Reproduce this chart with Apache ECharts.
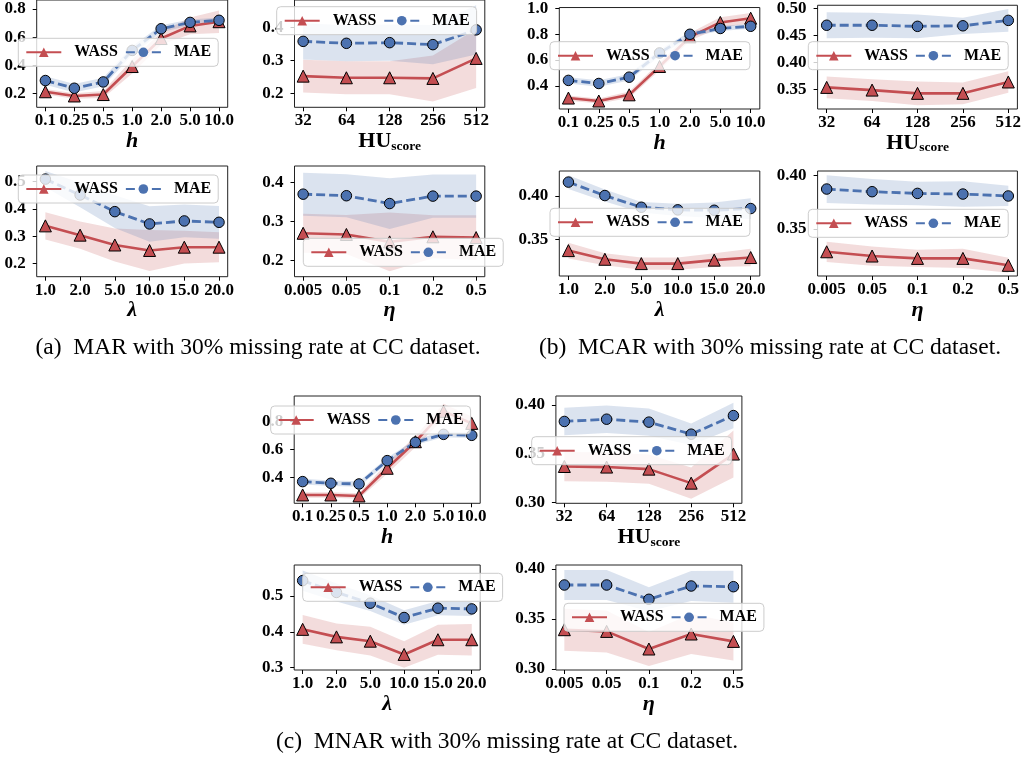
<!DOCTYPE html>
<html>
<head>
<meta charset="utf-8">
<script src="https://cdn.jsdelivr.net/npm/echarts@6/dist/echarts.min.js"></script>
<style>
html, body { margin: 0; padding: 0; background: #fff; }
#chart { width: 1025px; height: 761px; }
</style>
</head>
<body>
<div id="chart"></div>
<script>
// tick labels of the four hyper-parameters
var hCats = ['0.1', '0.25', '0.5', '1.0', '2.0', '5.0', '10.0'];
var huCats = ['32', '64', '128', '256', '512'];
var lamCats = ['1.0', '2.0', '5.0', '10.0', '15.0', '20.0'];
var etaCats = ['0.005', '0.05', '0.1', '0.2', '0.5'];

// (a) MAR
var marH_wass = [0.21, 0.18, 0.19, 0.39, 0.59, 0.68, 0.71];
var marH_mae = [0.29, 0.235, 0.28, 0.505, 0.66, 0.705, 0.72];
var marH_wassSd = [0.02, 0.02, 0.025, 0.05, 0.045, 0.06, 0.08];
var marH_maeSd = [0.03, 0.03, 0.03, 0.03, 0.025, 0.02, 0.02];

var marHu_wass = [0.252, 0.247, 0.247, 0.245, 0.306];
var marHu_mae = [0.358, 0.352, 0.354, 0.348, 0.393];
var marHu_wassSd = [0.05, 0.05, 0.05, 0.07, 0.09];
var marHu_maeSd = [0.055, 0.055, 0.055, 0.06, 0.075];

var marLam_wass = [0.338, 0.304, 0.268, 0.248, 0.26, 0.26];
var marLam_mae = [0.509, 0.451, 0.39, 0.345, 0.356, 0.351];
var marLam_wassSd = [0.05, 0.05, 0.06, 0.075, 0.06, 0.055];
var marLam_maeSd = [0.03, 0.045, 0.06, 0.065, 0.06, 0.06];

var marEta_wass = [0.27, 0.267, 0.248, 0.261, 0.259];
var marEta_mae = [0.37, 0.366, 0.346, 0.365, 0.365];
var marEta_wassSd = [0.05, 0.05, 0.075, 0.055, 0.057];
var marEta_maeSd = [0.055, 0.055, 0.065, 0.055, 0.055];

// (b) MCAR
var mcarH_wass = [0.305, 0.282, 0.33, 0.55, 0.78, 0.892, 0.925];
var mcarH_mae = [0.442, 0.418, 0.467, 0.655, 0.8, 0.845, 0.862];
var mcarH_wassSd = [0.02, 0.02, 0.025, 0.03, 0.03, 0.04, 0.04];
var mcarH_maeSd = [0.025, 0.025, 0.025, 0.025, 0.02, 0.02, 0.02];

var mcarHu_wass = [0.354, 0.349, 0.343, 0.343, 0.364];
var mcarHu_mae = [0.469, 0.469, 0.467, 0.468, 0.478];
var mcarHu_wassSd = [0.02, 0.02, 0.022, 0.02, 0.02];
var mcarHu_maeSd = [0.024, 0.023, 0.022, 0.015, 0.021];

var mcarLam_wass = [0.337, 0.327, 0.322, 0.322, 0.326, 0.329];
var mcarLam_mae = [0.416, 0.4005, 0.387, 0.384, 0.3835, 0.3855];
var mcarLam_wassSd = [0.009, 0.007, 0.007, 0.007, 0.008, 0.01];
var mcarLam_maeSd = [0.008, 0.007, 0.006, 0.007, 0.009, 0.012];

var mcarEta_wass = [0.3287, 0.3247, 0.3225, 0.3225, 0.316];
var mcarEta_mae = [0.3875, 0.385, 0.3834, 0.3828, 0.381];
var mcarEta_wassSd = [0.0095, 0.009, 0.008, 0.009, 0.007];
var mcarEta_maeSd = [0.013, 0.012, 0.011, 0.012, 0.0095];

// (c) MNAR
var mnarH_wass = [0.273, 0.273, 0.266, 0.465, 0.656, 0.875, 0.788];
var mnarH_mae = [0.369, 0.357, 0.352, 0.52, 0.652, 0.709, 0.702];
var mnarH_wassSd = [0.02, 0.02, 0.02, 0.04, 0.04, 0.055, 0.05];
var mnarH_maeSd = [0.02, 0.02, 0.02, 0.02, 0.02, 0.02, 0.02];

var mnarHu_wass = [0.337, 0.3364, 0.3343, 0.32, 0.3497];
var mnarHu_mae = [0.383, 0.3853, 0.3823, 0.37, 0.389];
var mnarHu_wassSd = [0.015, 0.015, 0.015, 0.016, 0.024];
var mnarHu_maeSd = [0.014, 0.014, 0.014, 0.011, 0.013];

var mnarLam_wass = [0.407, 0.386, 0.374, 0.337, 0.378, 0.378];
var mnarLam_mae = [0.543, 0.51, 0.48, 0.44, 0.466, 0.464];
var mnarLam_wassSd = [0.04, 0.037, 0.04, 0.037, 0.042, 0.044];
var mnarLam_maeSd = [0.028, 0.025, 0.022, 0.02, 0.02, 0.02];

var mnarEta_wass = [0.3393, 0.3376, 0.32, 0.335, 0.3276];
var mnarEta_mae = [0.384, 0.384, 0.3697, 0.383, 0.3823];
var mnarEta_wassSd = [0.021, 0.021, 0.017, 0.02, 0.019];
var mnarEta_maeSd = [0.015, 0.015, 0.012, 0.015, 0.016];

// y tick labels per panel
var ticksMarH = [0.2, 0.4, 0.6, 0.8];
var ticksMarHu = [0.2, 0.3, 0.4];
var ticksMarLam = [0.2, 0.3, 0.4, 0.5];
var ticksMarEta = [0.2, 0.3, 0.4];
var ticksMcarH = [0.4, 0.6, 0.8, 1.0];
var ticksMcarHu = [0.35, 0.40, 0.45, 0.50];
var ticksMcarLam = [0.35, 0.40];
var ticksMcarEta = [0.35, 0.40];
var ticksMnarH = [0.4, 0.6, 0.8];
var ticksMnarHu = [0.30, 0.35, 0.40];
var ticksMnarLam = [0.3, 0.4, 0.5];
var ticksMnarEta = [0.30, 0.35, 0.40];

var captions = [
    '(a)  MAR with 30% missing rate at CC dataset.',
    '(b)  MCAR with 30% missing rate at CC dataset.',
    '(c)  MNAR with 30% missing rate at CC dataset.'
];

var RED = '#c44e52';
var BLUE = '#4c72b0';
var FONT = 'Liberation Serif';

// box = [left, top, width, height], yr = [min, max], lg = legend [left, top]
var panels = [
    {box: [36.7, -3.4, 191, 110.7], yr: [0.099, 0.865], ticks: ticksMarH, dec: 1, lg: [18.3, 38.3], cats: hCats, nm: 'h',
        wass: marH_wass, mae: marH_mae, wsd: marH_wassSd, msd: marH_maeSd},
    {box: [294.5, -3.4, 190.3, 110.7], yr: [0.157, 0.484], ticks: ticksMarHu, dec: 1, lg: [276.7, 6.7], cats: huCats, nm: 'hu',
        wass: marHu_wass, mae: marHu_mae, wsd: marHu_wassSd, msd: marHu_maeSd},
    {box: [36.7, 166, 191, 110.7], yr: [0.152, 0.557], ticks: ticksMarLam, dec: 1, lg: [18.3, 175], cats: lamCats, nm: 'lam',
        wass: marLam_wass, mae: marLam_mae, wsd: marLam_wassSd, msd: marLam_maeSd},
    {box: [294.5, 166, 190.3, 110.7], yr: [0.159, 0.442], ticks: ticksMarEta, dec: 1, lg: [303.3, 238.3], cats: etaCats, nm: 'eta',
        wass: marEta_wass, mae: marEta_mae, wsd: marEta_wassSd, msd: marEta_maeSd},

    {box: [559.3, 4, 200.5, 105], yr: [0.22, 1.0075], ticks: ticksMcarH, dec: 1, lg: [550, 41.7], cats: hCats, nm: 'h',
        wass: mcarH_wass, mae: mcarH_mae, wsd: mcarH_wassSd, msd: mcarH_maeSd},
    {box: [817.6, 4, 199.8, 105], yr: [0.314, 0.506], ticks: ticksMcarHu, dec: 2, lg: [808.3, 41.7], cats: huCats, nm: 'hu',
        wass: mcarHu_wass, mae: mcarHu_mae, wsd: mcarHu_wassSd, msd: mcarHu_maeSd},
    {box: [559.3, 171, 200.5, 105], yr: [0.3077, 0.4288], ticks: ticksMcarLam, dec: 2, lg: [550, 208.3], cats: lamCats, nm: 'lam',
        wass: mcarLam_wass, mae: mcarLam_mae, wsd: mcarLam_wassSd, msd: mcarLam_maeSd},
    {box: [817.6, 171, 199.8, 105], yr: [0.306, 0.4044], ticks: ticksMcarEta, dec: 2, lg: [808.3, 209.3], cats: etaCats, nm: 'eta',
        wass: mcarEta_wass, mae: mcarEta_mae, wsd: mcarEta_wassSd, msd: mcarEta_maeSd},

    {box: [294.2, 396, 186, 107.3], yr: [0.213, 0.985], ticks: ticksMnarH, dec: 1, lg: [270.7, 406], cats: hCats, nm: 'h',
        wass: mnarH_wass, mae: mnarH_mae, wsd: mnarH_wassSd, msd: mnarH_maeSd},
    {box: [555.9, 396, 186, 107.3], yr: [0.2994, 0.409], ticks: ticksMnarHu, dec: 2, lg: [531.7, 436.7], cats: huCats, nm: 'hu',
        wass: mnarHu_wass, mae: mnarHu_mae, wsd: mnarHu_wassSd, msd: mnarHu_maeSd},
    {box: [294.2, 565, 186, 105], yr: [0.2936, 0.5865], ticks: ticksMnarLam, dec: 1, lg: [302.7, 573.3], cats: lamCats, nm: 'lam',
        wass: mnarLam_wass, mae: mnarLam_mae, wsd: mnarLam_wassSd, msd: mnarLam_maeSd},
    {box: [555.9, 565, 186, 105], yr: [0.299, 0.404], ticks: ticksMnarEta, dec: 2, lg: [564, 603.3], cats: etaCats, nm: 'eta',
        wass: mnarEta_wass, mae: mnarEta_mae, wsd: mnarEta_wassSd, msd: mnarEta_maeSd}
];

var axisNames = {
    h: '{i|h}',
    hu: '{a|HU}{b|score}',
    lam: '{i|\u03bb}',
    eta: '{i|\u03b7}'
};

var tickFont = {fontFamily: FONT, fontWeight: 'bold', fontSize: 17, color: '#000'};

// shaded mean +/- std band, drawn once per series as one polygon
function bandSeries(k, mean, sd, color) {
    return {
        type: 'custom',
        xAxisIndex: k,
        yAxisIndex: k,
        z: 1,
        silent: true,
        clip: true,
        data: mean.map(function (v, i) { return [i, v]; }),
        renderItem: function (params, api) {
            if (params.dataIndex !== 0) return null;
            var up = mean.map(function (v, i) { return api.coord([i, v + sd[i]]); });
            var lo = mean.map(function (v, i) { return api.coord([i, v - sd[i]]); }).reverse();
            return {
                type: 'polygon',
                shape: {points: up.concat(lo)},
                style: {fill: color, opacity: 0.2}
            };
        }
    };
}

var option = {
    animation: false,
    backgroundColor: '#fff',
    grid: [], xAxis: [], yAxis: [], series: [], legend: [], graphic: []
};

panels.forEach(function (p, k) {
    var n = p.cats.length;
    var pad = (n - 1) * 0.05;
    var idx = p.cats.map(function (c, i) { return i; });

    option.grid.push({
        left: p.box[0], top: p.box[1], width: p.box[2], height: p.box[3],
        show: true, borderColor: '#222', borderWidth: 1, backgroundColor: 'transparent'
    });

    option.xAxis.push({
        type: 'value', gridIndex: k, min: -pad, max: n - 1 + pad,
        splitLine: {show: false},
        axisLine: {show: false, onZero: false},
        axisTick: {show: true, customValues: idx, length: 4, lineStyle: {color: '#000'}},
        axisLabel: Object.assign({customValues: idx, margin: 5, formatter: function (v) { return p.cats[Math.round(v)]; }}, tickFont),
        name: axisNames[p.nm],
        nameLocation: 'middle',
        nameGap: 20,
        nameTextStyle: {
            rich: {
                i: {fontFamily: FONT, fontStyle: 'italic', fontWeight: 'bold', fontSize: 22, lineHeight: 24, color: '#000'},
                a: {fontFamily: FONT, fontWeight: 'bold', fontSize: 22, lineHeight: 24, color: '#000'},
                b: {fontFamily: FONT, fontWeight: 'bold', fontSize: 13.5, lineHeight: 10, verticalAlign: 'bottom', color: '#000'}
            }
        }
    });

    option.yAxis.push({
        type: 'value', gridIndex: k, min: p.yr[0], max: p.yr[1],
        splitLine: {show: false},
        axisLine: {show: false, onZero: false},
        axisTick: {show: true, customValues: p.ticks, length: 4, lineStyle: {color: '#000'}},
        axisLabel: Object.assign({customValues: p.ticks, margin: 11, formatter: function (v) { return v.toFixed(p.dec); }}, tickFont)
    });

    option.series.push(bandSeries(k, p.wass, p.wsd, RED));
    option.series.push(bandSeries(k, p.mae, p.msd, BLUE));

    option.series.push({
        type: 'line', name: 'WASS', xAxisIndex: k, yAxisIndex: k, z: 3,
        data: p.wass.map(function (v, i) { return [i, v]; }),
        symbol: 'triangle', symbolSize: 12, showAllSymbol: true,
        lineStyle: {color: RED, width: 2.6},
        itemStyle: {color: RED, borderColor: '#000', borderWidth: 1}
    });
    option.series.push({
        type: 'line', name: 'MAE', xAxisIndex: k, yAxisIndex: k, z: 3,
        data: p.mae.map(function (v, i) { return [i, v]; }),
        symbol: 'circle', symbolSize: 10.5, showAllSymbol: true,
        lineStyle: {color: BLUE, width: 2.8, type: [9, 4]},
        itemStyle: {color: BLUE, borderColor: '#000', borderWidth: 1}
    });

    option.legend.push({
        left: p.lg[0], top: p.lg[1], z: 10,
        orient: 'horizontal',
        data: ['WASS', 'MAE'],
        selectedMode: false,
        itemWidth: 35, itemHeight: 12, itemGap: 7,
        padding: [5, 7],
        backgroundColor: 'rgba(255,255,255,0.8)',
        borderColor: '#cccccc', borderWidth: 1, borderRadius: 4,
        itemStyle: {borderWidth: 0},
        textStyle: {fontFamily: FONT, fontWeight: 'bold', fontSize: 16, lineHeight: 18, color: '#000', padding: [0, 0, 0, 8]}
    });
});

var capPos = [[258, 348], [770, 348], [507, 742]];
captions.forEach(function (t, i) {
    option.graphic.push({
        type: 'text', x: capPos[i][0], y: capPos[i][1], z: 20,
        style: {text: t, font: '23.5px "Liberation Serif"', fill: '#000', align: 'center', verticalAlign: 'middle'}
    });
});

var myChart = echarts.init(document.getElementById('chart'));
myChart.setOption(option);
</script>
</body>
</html>
